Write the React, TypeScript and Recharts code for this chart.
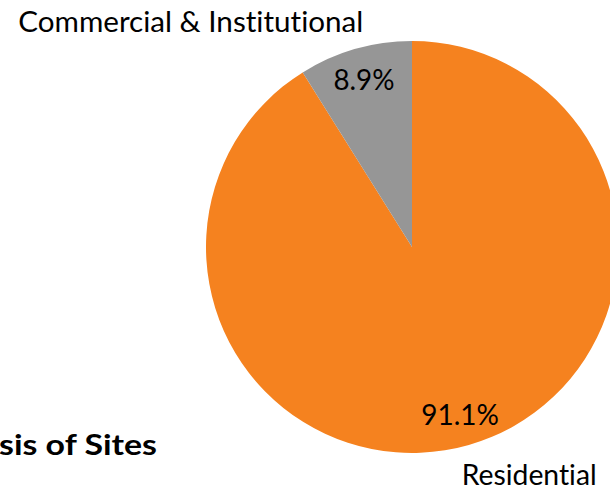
import React from "react";
import { PieChart, Pie, Cell } from "recharts";

const categories = ["Residential", "Commercial & Institutional"];
const shares = [91.1, 8.9];
const percentLabels = ["91.1%", "8.9%"];
const titleText = "sis of Sites";

const colors = ["#F5821F", "#969696"];
const FONT = "Lato, 'Open Sans', 'DejaVu Sans', sans-serif";
const noLig: React.CSSProperties = { fontVariantLigatures: "none", fontFeatureSettings: "'liga' 0, 'clig' 0" };

const data = categories.map((name, i) => ({ name, value: shares[i], pct: percentLabels[i] }));

// label geometry (style): name label placement, percent label widths
const nameLayout: Record<string, { x: number; y: number; w: number }> = {
  Residential: { x: 461.7, y: 485, w: 135 },
  "Commercial & Institutional": { x: 18.3, y: 31.7, w: 345 },
};
const pctWidth = [77.6, 61];

const RAD = Math.PI / 180;

const renderLabel = (props: any) => {
  const { cx, cy, midAngle, outerRadius, index, name } = props;
  const r = outerRadius * 0.845;
  const x = cx + r * Math.cos(-midAngle * RAD);
  const y = cy + r * Math.sin(-midAngle * RAD);
  const fs = 29;
  const nl = nameLayout[name];
  return (
    <g>
      <text
        x={x}
        y={y + fs * 0.36}
        textAnchor="middle"
        fontFamily={FONT}
        fontSize={fs}
        fill="#000"
        style={noLig}
        textLength={pctWidth[index]}
        lengthAdjust="spacingAndGlyphs"
      >
        {data[index].pct}
      </text>
      {nl && (
        <text
          x={nl.x}
          y={nl.y}
          textAnchor="start"
          fontFamily={FONT}
          fontSize={fs}
          fill="#000"
          style={noLig}
          textLength={nl.w}
          lengthAdjust="spacingAndGlyphs"
        >
          {name}
        </text>
      )}
    </g>
  );
};

export default function App() {
  return (
    <div style={{ position: "absolute", left: 0, top: 0, width: 610, height: 489, background: "#fff" }}>
      <PieChart width={610} height={489} margin={{ top: 0, right: 0, bottom: 0, left: 0 }}>
        <Pie
          data={data}
          dataKey="value"
          nameKey="name"
          cx={412}
          cy={247}
          outerRadius={206}
          startAngle={90}
          endAngle={-270}
          stroke="none"
          isAnimationActive={false}
          labelLine={false}
          label={renderLabel}
        >
          {data.map((d, i) => (
            <Cell key={d.name} fill={colors[i]} />
          ))}
        </Pie>
      </PieChart>
      <svg
        width={610}
        height={489}
        style={{ position: "absolute", left: 0, top: 0, pointerEvents: "none" }}
      >
        <text
          x={-1}
          y={455}
          fontFamily={FONT}
          fontWeight="bold"
          fontSize={28}
          fill="#000"
          style={noLig}
          textLength={158}
          lengthAdjust="spacingAndGlyphs"
        >
          {titleText}
        </text>
      </svg>
    </div>
  );
}
